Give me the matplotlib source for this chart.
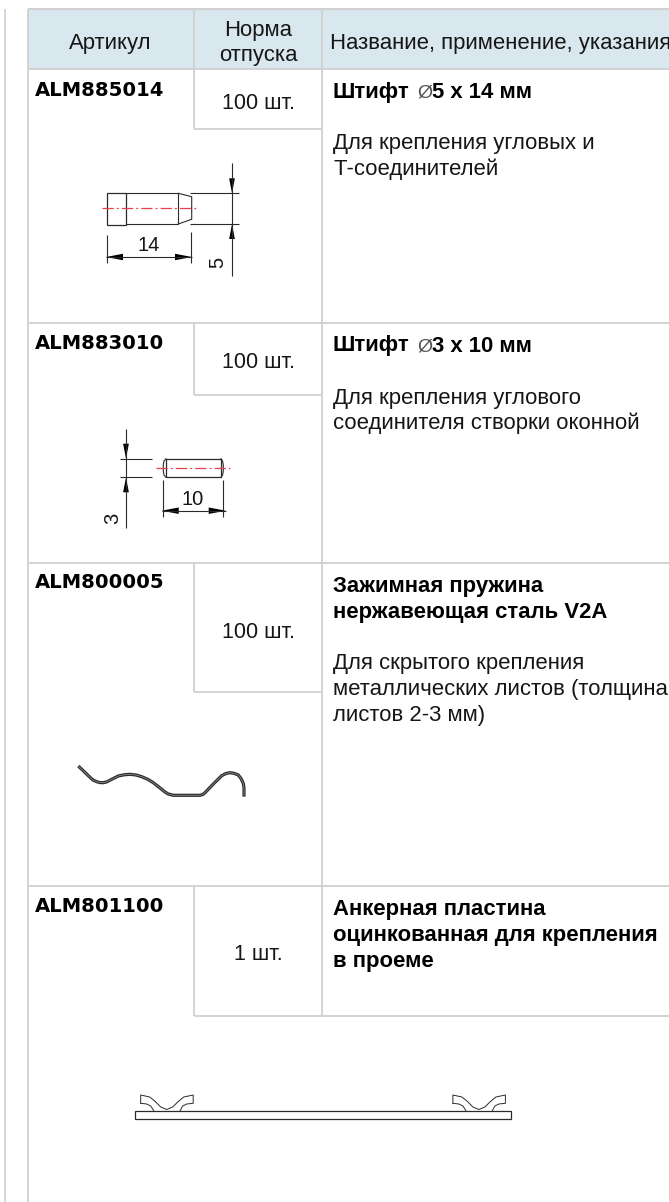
import matplotlib
matplotlib.use("Agg")
import matplotlib.pyplot as plt
from matplotlib.patches import Rectangle, Polygon

W, H = 669, 1202

articles = ["ALM885014", "ALM883010", "ALM800005", "ALM801100"]
article_y = [96, 349, 588, 911.5]
norms = ["100 шт.", "100 шт.", "100 шт.", "1 шт."]
norm_y = [109, 368, 638, 960]
row_lines = [322.5, 562.5, 885.5]
norm_bottoms = [128.5, 394.5, 691.5, 1015.5]

pin_names = [["Штифт", "Ø", "5 x 14 мм"], ["Штифт", "Ø", "3 x 10 мм"]]
pin_name_y = [98, 351.5]
names = [
    ["Зажимная пружина", "нержавеющая сталь V2A"],
    ["Анкерная пластина", "оцинкованная для крепления", "в проеме"],
]
name_y = [[592, 618], [915, 941, 967]]
notes = [
    ["Для крепления угловых и", "Т-соединителей"],
    ["Для крепления углового", "соединителя створки оконной"],
    ["Для скрытого крепления", "металлических листов (толщина", "листов 2-3 мм)"],
]
note_y = [[149, 175.5], [404, 429], [669, 695, 721]]

spring_x = [78.3, 84, 90, 93, 96.7, 100, 103.3, 107, 111.7, 118.3, 124, 130, 136, 141.7, 148, 153.3, 161.7, 165, 168.3, 173.3, 200, 203, 205, 213.3, 221.7, 226, 230, 234, 238.3, 241, 243.3, 244, 244]
spring_y = [766, 771.5, 777.3, 780, 781.7, 782.6, 782.7, 781.8, 779.3, 776, 774.8, 774.3, 775, 776.7, 779.4, 782.7, 789.3, 792, 794, 795.3, 795.3, 794.4, 792.7, 784, 775.7, 773.5, 772.7, 773.3, 775, 778.5, 783.3, 788, 796.7]

wing_dx = [0, 0, 9, 14, 20, 26, 32, 37, 43, 52.5, 52.5, 46, 42, 39.5]
wing_y = [1103.3, 1095, 1097, 1101, 1107, 1109.5, 1107, 1102, 1097, 1095, 1103.3, 1104, 1106, 1110.5]
wing_in_dx = [0, 6, 10, 13]
wing_in_y = [1103.3, 1104, 1106, 1110.5]
wing_left = [140.7, 452.9]

grid = "#d0d0d0"
ink = "#2a2a2a"
txt = "#161616"
red = "#e8404a"
dash = (0, (9, 2.5, 1.5, 2.5))

plt.rcParams["font.family"] = ["Liberation Sans", "DejaVu Sans"]

fig = plt.figure(figsize=(W / 100, H / 100), dpi=100)
ax = fig.add_axes([0, 0, 1, 1])
ax.set_xlim(0, W)
ax.set_ylim(H, 0)
ax.axis("off")


def seg(x0, y0, x1, y1, color=ink, lw=0.8, **kw):
    ax.plot([x0, x1], [y0, y1], color=color, lw=lw, solid_capstyle="butt", **kw)


def arrow(x, y, dx, dy):
    # dimension arrow head, tip at x, y
    px, py = -dy * 0.19, dx * 0.19
    ax.add_patch(Polygon([(x, y), (x - dx + px, y - dy + py), (x - dx - px, y - dy - py)], color="black", lw=0))


def label(x, y, s, size=15.9, **kw):
    kw.setdefault("color", txt)
    kw.setdefault("ha", "left")
    kw.setdefault("va", "baseline")
    ax.text(x, y, s, fontsize=size, **kw)


# header and grid
ax.add_patch(Rectangle((27.5, 9), W - 27.5, 60, facecolor="#d9e8ee", edgecolor="none"))
seg(5, 9, 5, H, grid, 1.2)
seg(27.5, 9, W, 9, grid, 1.5)
seg(27.5, 8.5, 27.5, H, grid, 1.3)
seg(193.5, 9, 193.5, 128.5, grid, 1.3)
seg(322, 9, 322, 1015.5, grid, 1.3)
seg(27.5, 69, W, 69, grid, 1.3)
for y in row_lines:
    seg(27.5, y, W, y, grid, 1.3)
for y0, y1 in zip(row_lines, norm_bottoms[1:]):
    seg(193.5, y0, 193.5, y1, grid, 1.3)
for y in norm_bottoms[:-1]:
    seg(193.5, y, 322, y, grid, 1.3)
seg(193.5, norm_bottoms[-1], W, norm_bottoms[-1], grid, 1.3)

# header text
label(110, 49, "Артикул", ha="center")
label(258, 36, "Норма", ha="center")
label(258, 61, "отпуска", ha="center")
label(330, 49.5, "Название, применение, указания")

# rows
for art, y in zip(articles, article_y):
    label(35, y, art, size=14.1, fontweight="bold", color="black", family=["DejaVu Sans"])
for n, y in zip(norms, norm_y):
    label(258, y, n, size=15.5, ha="center")
for parts, y in zip(pin_names, pin_name_y):
    label(333, y, parts[0], fontweight="bold", color="black")
    label(417, y, parts[1], size=14, color="#555555")
    label(431.5, y, parts[2], fontweight="bold", color="black")
for lines, ys in zip(names, name_y):
    for s, y in zip(lines, ys):
        label(333, y, s, fontweight="bold", color="black")
for lines, ys in zip(notes, note_y):
    for s, y in zip(lines, ys):
        label(333, y, s)

# pin 5 x 14
ax.add_patch(Rectangle((107, 192.5), 18.7, 32.8, fill=False, ec=ink, lw=0.9))
seg(125.7, 193.3, 178.3, 193.3)
seg(125.7, 224, 178.3, 224)
seg(178.3, 193.3, 178.3, 224)
ax.plot([178.3, 191.7, 191.7, 178.3], [193.3, 196.7, 219.3, 224], color=ink, lw=0.8)
seg(101.7, 208.3, 197.3, 208.3, red, 0.9, linestyle=dash)
seg(190, 193.3, 238.7, 193.3)
seg(190, 224, 238.7, 224)
seg(232, 163, 232, 275.7)
arrow(232, 193.3, 0, 15)
arrow(232, 224, 0, -15)
seg(107, 235, 107, 263)
seg(190.7, 232.3, 190.7, 263)
seg(106, 257, 192, 257)
arrow(106, 257, -17, 0)
arrow(192, 257, 17, 0)
label(148.3, 250.7, "14", size=14.5, ha="center")
label(218, 262, "5", size=14.5, rotation=90, ha="center", va="center")

# pin 3 x 10
ax.add_patch(Rectangle((166, 458.7), 55, 18.6, fill=False, ec=ink, lw=0.9))
ax.plot([166, 164, 163.3, 163.3, 164, 166], [458.7, 461, 465, 471, 475, 477.3], color=ink, lw=0.8)
ax.plot([221, 222.6, 223.3, 223.3, 222.6, 221], [458.7, 461, 465, 471, 475, 477.3], color=ink, lw=0.8)
seg(156, 467.7, 230, 467.7, red, 0.9, linestyle=dash)
seg(120, 458.7, 151.7, 458.7)
seg(120, 477.3, 151.7, 477.3)
seg(126, 429.3, 126, 528.3)
arrow(126, 458.7, 0, 15)
arrow(126, 477.3, 0, -15)
seg(163.3, 480, 163.3, 516.7)
seg(223.3, 480, 223.3, 516.7)
seg(161.7, 510.7, 225.7, 510.7)
arrow(161.7, 510.7, -17, 0)
arrow(225.7, 510.7, 17, 0)
label(192.3, 505, "10", size=14.5, ha="center")
label(112.5, 518, "3", size=14.5, rotation=90, ha="center", va="center")

# spring
ax.plot(spring_x, spring_y, color="#2a2a2a", lw=2.3, solid_capstyle="butt", solid_joinstyle="round")
ax.plot(spring_x, spring_y, color="#8a8a8a", lw=0.6, solid_capstyle="butt", solid_joinstyle="round")

# anchor plate
ax.add_patch(Rectangle((135, 1110.7), 376, 7.8, fill=False, ec=ink, lw=0.9))
for x0 in wing_left:
    ax.plot([x0 + d for d in wing_dx], wing_y, color=ink, lw=0.7)
    ax.plot([x0 + d for d in wing_in_dx], wing_in_y, color=ink, lw=0.7)

fig.savefig("out.png", dpi=100)
